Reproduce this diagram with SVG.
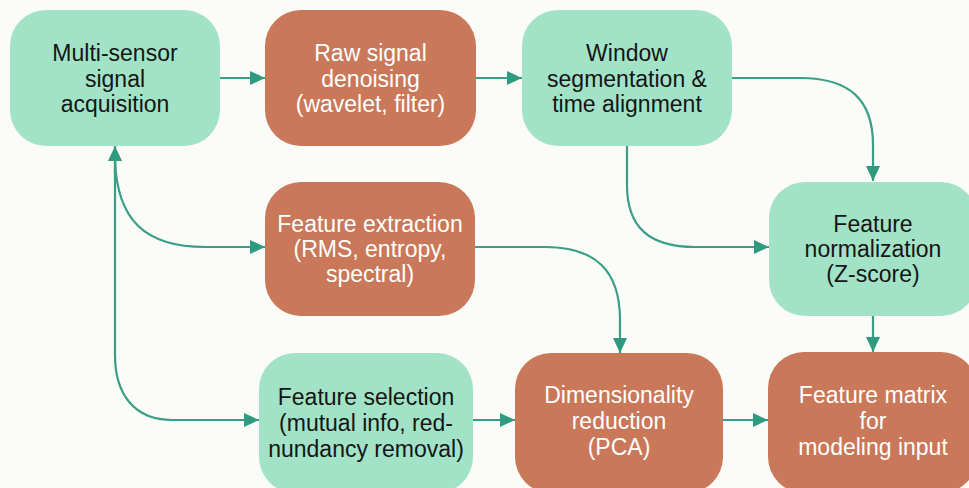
<svg xmlns="http://www.w3.org/2000/svg" width="969" height="488" viewBox="0 0 969 488">
<style>
.g{fill:#a2e3c7}
.o{fill:#c97859}
text{font-family:"Liberation Sans",Arial,sans-serif;font-size:23px;text-anchor:middle}
.tg{fill:#151515}
.to{fill:#ffffff}
.c{fill:none;stroke:#3a9e86;stroke-width:2.2}
</style>
<defs>
<marker id="ah" markerUnits="userSpaceOnUse" markerWidth="16" markerHeight="14" refX="15" refY="7" orient="auto">
<path d="M0,0 L15,7 L0,14 Z" fill="#2f9a80"/>
</marker>
</defs>
<rect width="969" height="488" fill="#fbfbf8"/>
<g id="connectors">
<path class="c" d="M220,78 H265" marker-end="url(#ah)"/>
<path class="c" d="M476,78 H522" marker-end="url(#ah)"/>
<path class="c" d="M732,78 H800 C850,78 873,100 873,145 V181" marker-end="url(#ah)"/>
<path class="c" d="M627,146 V185 C627,228 650,247 695,247 H769" marker-end="url(#ah)"/>
<path class="c" d="M475,247 H545 C595,247 620,270 620,320 V353" marker-end="url(#ah)"/>
<path class="c" d="M873,316 V352" marker-end="url(#ah)"/>
<path class="c" d="M473,420 H515" marker-end="url(#ah)"/>
<path class="c" d="M723,420 H768" marker-end="url(#ah)"/>
<path class="c" d="M115,175 V146" marker-end="url(#ah)"/>
<path class="c" d="M115,160 C117,220 145,247 205,247 H265" marker-end="url(#ah)"/>
<path class="c" d="M115,160 V355 C115,395 135,420 172,420 H259" marker-end="url(#ah)"/>
</g>
<g id="n1"><rect class="g" x="10" y="10" width="210" height="136" rx="36"/>
<text class="tg" x="115" y="61">Multi-sensor</text><text class="tg" x="115" y="86.5">signal</text><text class="tg" x="115" y="112">acquisition</text></g>
<g id="n2"><rect class="o" x="265" y="10" width="211" height="136" rx="36"/>
<text class="to" x="370.5" y="61">Raw signal</text><text class="to" x="370.5" y="86.5">denoising</text><text class="to" x="370.5" y="112">(wavelet, filter)</text></g>
<g id="n3"><rect class="g" x="522" y="10" width="210" height="136" rx="36"/>
<text class="tg" x="627" y="61">Window</text><text class="tg" x="627" y="86.5">segmentation &amp;</text><text class="tg" x="627" y="112">time alignment</text></g>
<g id="n4"><rect class="o" x="265" y="182" width="210" height="134" rx="36"/>
<text class="to" x="370" y="232">Feature extraction</text><text class="to" x="370" y="257">(RMS, entropy,</text><text class="to" x="370" y="282">spectral)</text></g>
<g id="n5"><rect class="g" x="769" y="182" width="208" height="134" rx="36"/>
<text class="tg" x="873" y="232">Feature</text><text class="tg" x="873" y="257">normalization</text><text class="tg" x="873" y="282">(Z-score)</text></g>
<g id="n6"><rect class="g" x="259" y="353" width="214" height="140" rx="36"/>
<text class="tg" x="366" y="405">Feature selection</text><text class="tg" x="366" y="431">(mutual info, red-</text><text class="tg" x="366" y="457">nundancy removal)</text></g>
<g id="n7"><rect class="o" x="515" y="353" width="208" height="140" rx="36"/>
<text class="to" x="619" y="403">Dimensionality</text><text class="to" x="619" y="429">reduction</text><text class="to" x="619" y="455">(PCA)</text></g>
<g id="n8"><rect class="o" x="768" y="352" width="209" height="141" rx="36"/>
<text class="to" x="873" y="403">Feature matrix</text><text class="to" x="873" y="429">for</text><text class="to" x="873" y="455">modeling input</text></g>
</svg>
